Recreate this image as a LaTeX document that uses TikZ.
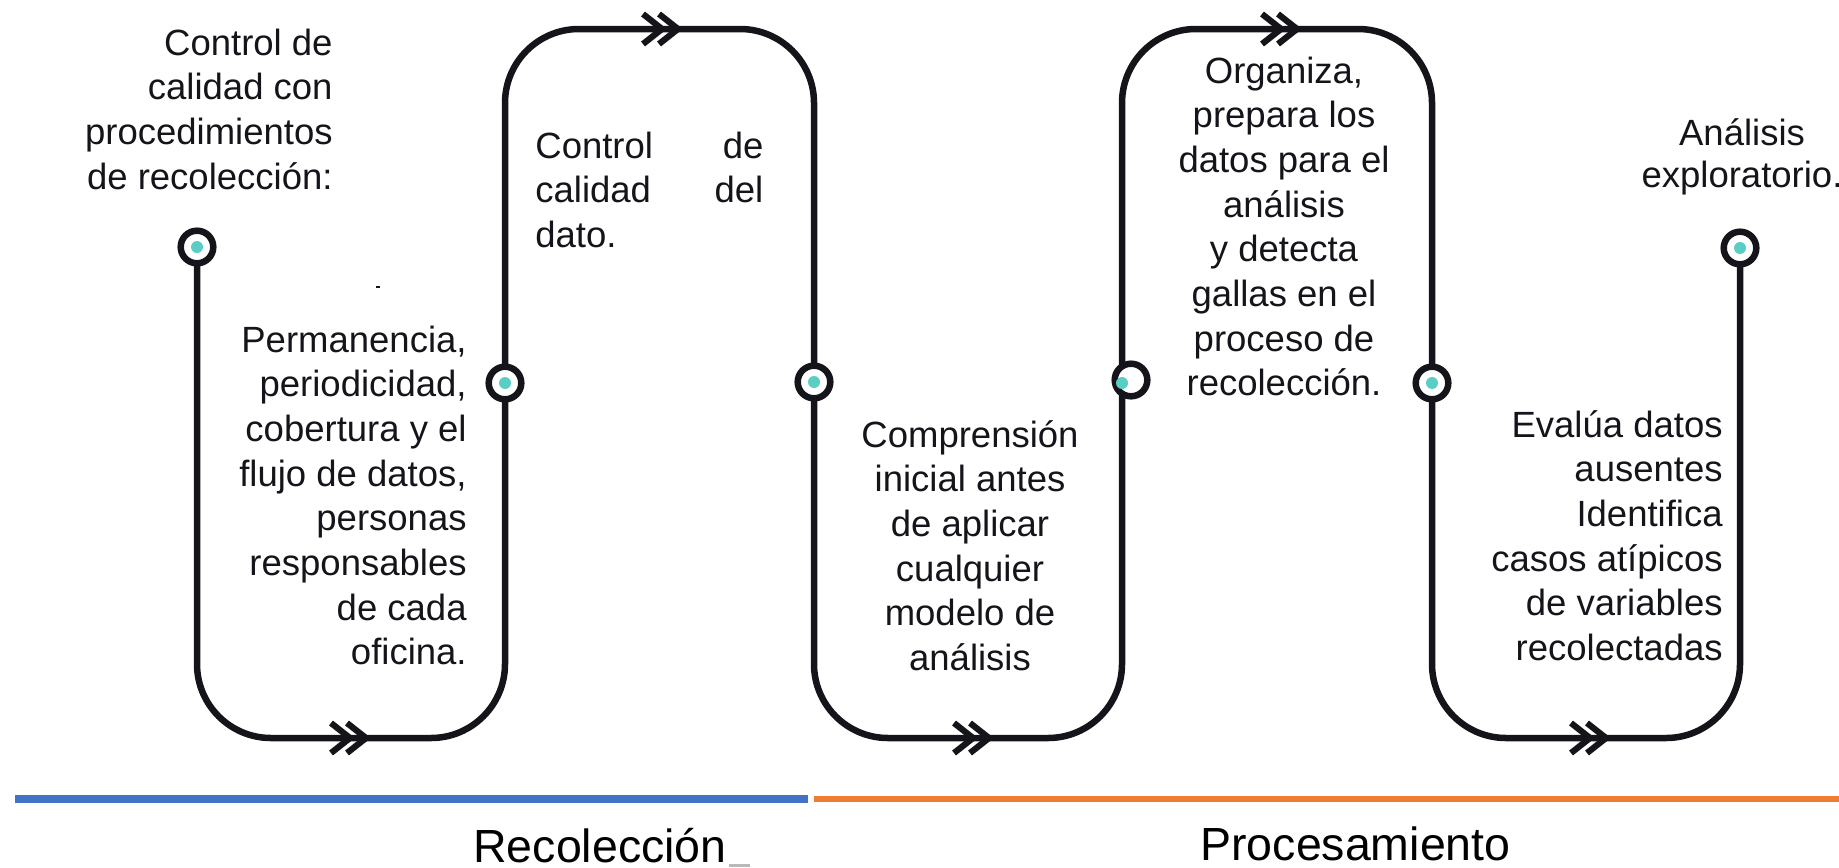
\documentclass[tikz,border=0pt]{standalone}
\usepackage{fontspec}
\setmainfont{Liberation Sans}
\definecolor{ink}{RGB}{21,20,26}
\definecolor{dotcol}{RGB}{90,206,196}
\definecolor{blueline}{RGB}{68,114,196}
\definecolor{orangeline}{RGB}{237,125,49}
\begin{document}
\begin{tikzpicture}[x=0.5pt,y=-0.5pt,
  flow/.style={draw=ink, line width=3.25pt, rounded corners=37pt},
  ring/.style={circle, draw=ink, line width=3.25pt, fill=white, minimum size=16.3pt, inner sep=0pt},
  tealdot/.style={circle, fill=dotcol, minimum size=6pt, inner sep=0pt},
  chevron/.style={draw=ink, line width=3.1pt, miter limit=10},
  body/.style={inner sep=0pt, text=ink, font=\fontsize{18.25pt}{22.35pt}\selectfont},
  phase/.style={inner sep=0pt, anchor=base west, text=black, font=\fontsize{23.25pt}{28pt}\selectfont},
  dchev/.pic={\draw[chevron] (-21,-15) -- (-2,0) -- (-21,15);
              \draw[chevron] (-5,-15) -- (14,0) -- (-5,15);}]
\useasboundingbox (0,0) rectangle (1839,867);
% path coordinates
\coordinate (p1) at (197,247);
\coordinate (k1) at (197,738);
\coordinate (k2) at (505,738);
\coordinate (p2) at (505,383);
\coordinate (k3) at (505,29);
\coordinate (k4) at (814,29);
\coordinate (p3) at (814,382);
\coordinate (k5) at (814,738);
\coordinate (k6) at (1122,738);
\coordinate (p4) at (1122,383);
\coordinate (k7) at (1122,29);
\coordinate (k8) at (1432,29);
\coordinate (p5) at (1432,383);
\coordinate (k9) at (1432,738);
\coordinate (k10) at (1740,738);
\coordinate (p6) at (1740,248);
% winding line
\draw[flow] (p1) -- (k1) -- (k2) -- (p2) -- (k3) -- (k4) -- (p3) -- (k5) -- (k6) -- (p4) -- (k7) -- (k8) -- (p5) -- (k9) -- (k10) -- (p6);
% chevrons
\coordinate (m1) at (352,738);
\coordinate (m2) at (664,29);
\coordinate (m3) at (975,738);
\coordinate (m4) at (1283,29);
\coordinate (m5) at (1592,738);
\pic at (m1) {dchev};
\pic at (m2) {dchev};
\pic at (m3) {dchev};
\pic at (m4) {dchev};
\pic at (m5) {dchev};
% rings and dots
\node[ring] (c1) at (p1) {};
\node[ring] (c2) at (p2) {};
\node[ring] (c3) at (p3) {};
\node[ring] (c4) at (1131,380) {};
\node[ring] (c5) at (p5) {};
\node[ring] (c6) at (p6) {};
\node[tealdot] (d1) at (c1) {};
\node[tealdot] (d2) at (c2) {};
\node[tealdot] (d3) at (c3) {};
\node[tealdot] (d4) at (p4) {};
\node[tealdot] (d5) at (c5) {};
\node[tealdot] (d6) at (c6) {};
% texts
\node[body, anchor=base east] (tA) at (333,55) {\begin{tabular}[t]{@{}r@{}}Control de\\calidad con\\procedimientos\\de recolección:\end{tabular}};
\node[body, anchor=base east] (tB) at (467,352) {\begin{tabular}[t]{@{}r@{}}Permanencia,\\periodicidad,\\cobertura y el\\flujo de datos,\\personas\\responsables\\de cada\\oficina.\end{tabular}};
\node[body, anchor=base west] (tC) at (535,158) {\begin{tabular}[t]{@{}l@{}}\makebox[114pt][s]{Control de}\\\makebox[114pt][s]{calidad del}\\dato.\end{tabular}};
\node[body, anchor=base] (tD) at (970,447) {\begin{tabular}[t]{@{}c@{}}Comprensión\\inicial antes\\de aplicar\\cualquier\\modelo de\\análisis\end{tabular}};
\node[body, anchor=base] (tE) at (1284,83) {\begin{tabular}[t]{@{}c@{}}Organiza,\\prepara los\\datos para el\\análisis\\y detecta\\gallas en el\\proceso de\\recolección.\end{tabular}};
\node[body, anchor=base east] (tF) at (1723,437) {\begin{tabular}[t]{@{}r@{}}Evalúa datos\\ausentes\\Identifica\\casos atípicos\\de variables\\recolectadas\end{tabular}};
\node[body, anchor=base] (tG) at (1742,145) {\begin{tabular}[t]{@{}c@{}}Análisis\\[-1.35pt]exploratorio.\end{tabular}};
% stray mark
\fill[ink] (376,286) rectangle (380,288);
% phase lines
\coordinate (b0) at (15,799);
\coordinate (b1) at (808,799);
\coordinate (o0) at (814,799);
\coordinate (o1) at (1839,799);
\draw[blueline, line width=3.6pt] (b0) -- (b1);
\draw[orangeline, line width=3.3pt] (o0) -- (o1);
% phase labels
\node[phase] (rec) at (473,862) {Recolección};
\node[phase] (proc) at (1200,860) {Procesamiento};
\fill[gray!55] (729,864) rectangle (750,867);
\end{tikzpicture}
\end{document}
